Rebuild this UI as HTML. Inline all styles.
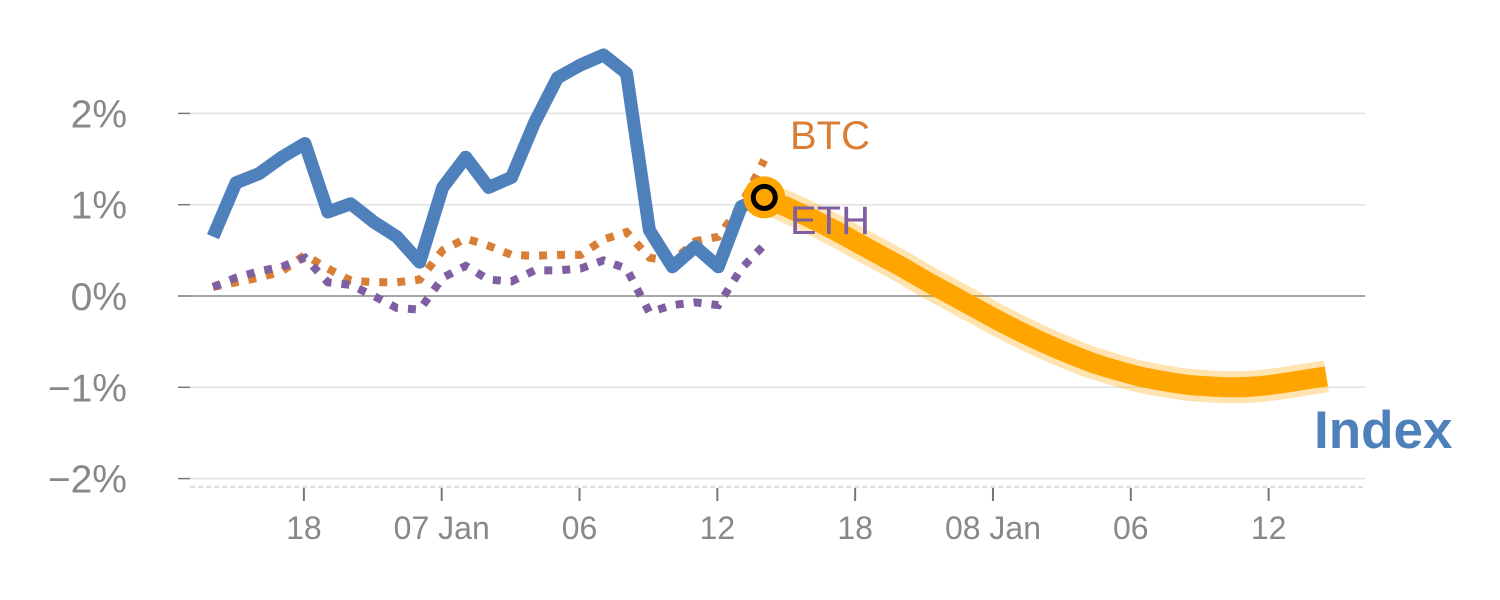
<!DOCTYPE html>
<html><head><meta charset="utf-8"><style>
html,body{margin:0;padding:0;background:#fff;}
svg{display:block;font-family:"Liberation Sans",Arial,sans-serif;}
</style></head><body>
<svg id="chart" width="1500" height="600"></svg>
<script>
const yTicks = [2, 1, 0, -1, -2];
const yTickLabels = ["2%", "1%", "0%", "\u22121%", "\u22122%"];
const xTickIdx = [4, 10, 16, 22, 28, 34, 40, 46];
const xTickLabels = ["18", "07 Jan", "06", "12", "18", "08 Jan", "06", "12"];
const indexVals = [0.65,1.24,1.34,1.52,1.67,0.92,1.01,0.81,0.65,0.37,1.19,1.52,1.19,1.30,1.9,2.39,2.53,2.64,2.44,0.72,0.32,0.54,0.32,0.98,1.08];
const btcVals = [0.1,0.15,0.2,0.27,0.45,0.3,0.17,0.15,0.15,0.18,0.5,0.63,0.55,0.45,0.44,0.45,0.45,0.62,0.70,0.42,0.38,0.6,0.65,1.0,1.49];
const ethVals = [0.1,0.2,0.27,0.32,0.42,0.15,0.12,0.0,-0.13,-0.15,0.2,0.33,0.18,0.16,0.28,0.28,0.3,0.39,0.3,-0.18,-0.1,-0.07,-0.1,0.3,0.56];
const forecastVals = [1.08,0.97,0.85,0.72,0.58,0.44,0.3,0.15,0.01,-0.13,-0.27,-0.4,-0.52,-0.63,-0.73,-0.81,-0.88,-0.93,-0.97,-0.99,-1.0,-0.99,-0.96,-0.92,-0.88];
const forecastStart = 24;

const NS = "http://www.w3.org/2000/svg";
const svg = document.getElementById("chart");
const X = i => 213 + i * 22.97;
const FX = i => X(forecastStart) + i * 23.42;
const Y = v => 296 - v * 91.3;
function mk(tag, attrs, parent) {
  const e = document.createElementNS(NS, tag);
  for (const k in attrs) e.setAttribute(k, attrs[k]);
  (parent || svg).appendChild(e);
  return e;
}
yTicks.forEach((v, i) => {
  const g = mk("line", {x1:190, x2:1365, y1:Y(v), y2:Y(v), stroke: v===0 ? "#888" : "#e2e2e2", "stroke-width":1.5});
  
  
  mk("line", {x1:178, x2:190, y1:Y(v), y2:Y(v), stroke:"#777", "stroke-width":1.5});
  const t = mk("text", {x:127, y:Y(v)+14, "text-anchor":"end", "font-size":39, fill:"#888"});
  t.textContent = yTickLabels[i];
  
  
});
const ax = mk("line", {x1:190, x2:1365, y1:487, y2:487, stroke:"#ddd", "stroke-width":2, "stroke-dasharray":"5,3"});


xTickIdx.forEach((idx, i) => {
  const x = X(idx) - 1;
  mk("line", {x1:x, x2:x, y1:488, y2:501, stroke:"#777", "stroke-width":2});
  const t = mk("text", {x:x, y:539, "text-anchor":"middle", "font-size":32, fill:"#888"});
  t.textContent = xTickLabels[i];
  
  
});
function pts(vals) { return vals.map((v, i) => X(i).toFixed(1) + "," + Y(v).toFixed(1)).join(" "); }
const btc = mk("polyline", {points: pts(btcVals), fill:"none", stroke:"#d97f35", "stroke-width":8, "stroke-dasharray":"8,10"});


const eth = mk("polyline", {points: pts(ethVals), fill:"none", stroke:"#7e5fa1", "stroke-width":8, "stroke-dasharray":"8,10"});


const idx = mk("polyline", {points: pts(indexVals), fill:"none", stroke:"#4e80bc", "stroke-width":13, "stroke-linejoin":"round"});


function smooth(vals) {
  const p = vals.map((v, i) => [FX(i), Y(v)]);
  let d = "M" + p[0][0] + "," + p[0][1];
  for (let i = 0; i < p.length - 1; i++) {
    const p0 = p[i-1] || p[i], p1 = p[i], p2 = p[i+1], p3 = p[i+2] || p2;
    d += " C" + (p1[0]+(p2[0]-p0[0])/6) + "," + (p1[1]+(p2[1]-p0[1])/6) + " " + (p2[0]-(p3[0]-p1[0])/6) + "," + (p2[1]-(p3[1]-p1[1])/6) + " " + p2[0] + "," + p2[1];
  }
  return d;
}
const fd = smooth(forecastVals);
mk("path", {d: fd, fill:"none", stroke:"#ffa500", "stroke-opacity":0.3, "stroke-width":32});
const fc = mk("path", {d: fd, fill:"none", stroke:"#ffa500", "stroke-width":20});


const mkr = mk("circle", {cx:X(forecastStart), cy:Y(forecastVals[0]), r:21, fill:"#ffa500"});


mk("circle", {cx:X(forecastStart), cy:Y(forecastVals[0]), r:11, fill:"none", stroke:"#000", "stroke-width":5});
const lb = mk("text", {x:790, y:149, "font-size":40, fill:"#d97f35"}); lb.textContent = "BTC";
 
const le = mk("text", {x:790, y:234, "font-size":40, fill:"#7e5fa1"}); le.textContent = "ETH";
 
const li = mk("text", {x:1314, y:448, "font-size":53, "font-weight":"bold", fill:"#4e80bc"}); li.textContent = "Index";
 
</script>
</body></html>
